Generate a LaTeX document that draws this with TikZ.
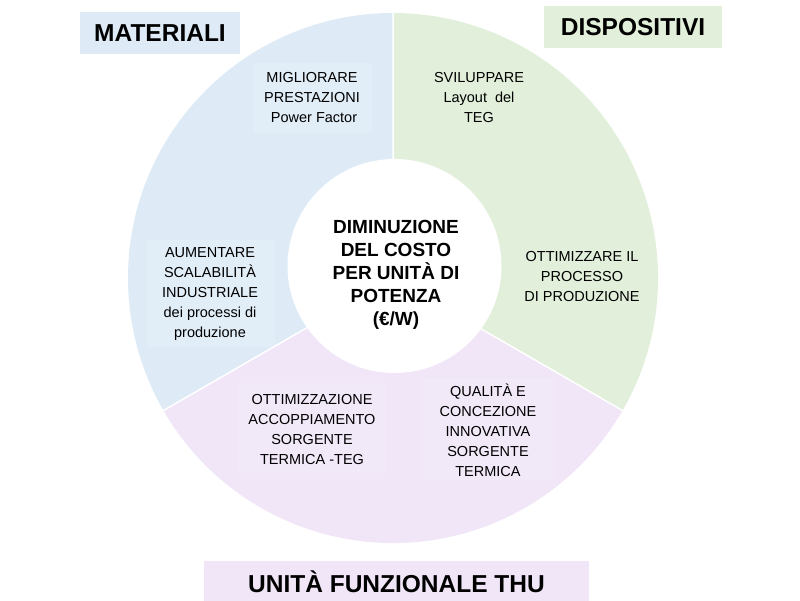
\documentclass[tikz,border=0pt]{standalone}
\usepackage{fontspec}
\setmainfont{Liberation Sans}
\usetikzlibrary{calc}
\definecolor{cblue}{HTML}{DEEBF7}
\definecolor{cgreen}{HTML}{E2EFDA}
\definecolor{cpurple}{HTML}{F0E6F8}
\tikzset{
  body/.style={align=center, inner sep=0pt, text=black, font=\fontsize{14.5}{20}\selectfont},
  centre/.style={align=center, inner sep=0pt, text=black, font=\bfseries\fontsize{19}{23}\selectfont},
  header/.style={inner sep=0pt, text=black, font=\bfseries\fontsize{24.5}{28}\selectfont},
  faint/.style={fill=white, fill opacity=0.1, draw=none},
  divider/.style={white, line width=1.5pt}
}
\begin{document}
\begin{tikzpicture}[x=1pt,y=1pt]
\useasboundingbox (0,0) rectangle (800,600);
\fill[white] (0,0) rectangle (800,600);
\coordinate (C) at (393,322);
% sectors
\fill[cblue] (C) -- ++(90:265) arc[start angle=90,end angle=210,radius=265] -- cycle;
\fill[cpurple] (C) -- ++(210:265) arc[start angle=210,end angle=330,radius=265] -- cycle;
\fill[cgreen] (C) -- ++(330:265) arc[start angle=330,end angle=450,radius=265] -- cycle;
\coordinate (Ptop) at ($(C)+(90:265)$);
\coordinate (Pleft) at ($(C)+(210:265)$);
\coordinate (Pright) at ($(C)+(330:265)$);
\draw[divider] (C) -- (Ptop) (C) -- (Pleft) (C) -- (Pright);
% faint text boxes
\fill[faint] (253,467) rectangle (372,537);
\fill[faint] (147,253) rectangle (275,360);
\fill[faint] (237,127) rectangle (387,217);
\fill[faint] (420,120) rectangle (556,222);
% centre circle
\node[circle, fill=white, minimum size=214pt, inner sep=0pt] (hub) at (394.5,334) {};
\node[centre] (goal) at (396,325) {DIMINUZIONE\\DEL COSTO\\PER UNITÀ DI\\POTENZA\\(€/W)};
% sector texts
\node[body] (t1) at (312,502) {MIGLIORARE\\PRESTAZIONI\\\ Power Factor};
\node[body] (t2) at (479,502) {SVILUPPARE\\Layout\ \ del\\TEG};
\node[body] (t3) at (210,306) {AUMENTARE\\SCALABILITÀ\\INDUSTRIALE\\dei processi di\\produzione};
\node[body] (t4) at (582,323) {OTTIMIZZARE IL\\PROCESSO\\DI PRODUZIONE};
\node[body] (t5) at (312,170) {OTTIMIZZAZIONE\\ACCOPPIAMENTO\\SORGENTE\\TERMICA -TEG};
\node[body] (t6) at (488,170) {QUALITÀ E\\CONCEZIONE\\INNOVATIVA\\SORGENTE\\TERMICA};
% headers
\fill[cblue] (80,546) rectangle (240,588);
\node[header] (h1) at (160,567) {MATERIALI};
\fill[cgreen] (544,552) rectangle (722,594);
\node[header] (h2) at (633,573) {DISPOSITIVI};
\fill[cpurple] (204,-2) rectangle (589,39);
\node[header] (h3) at (396.5,18) {UNITÀ FUNZIONALE THU};
\end{tikzpicture}
\end{document}
